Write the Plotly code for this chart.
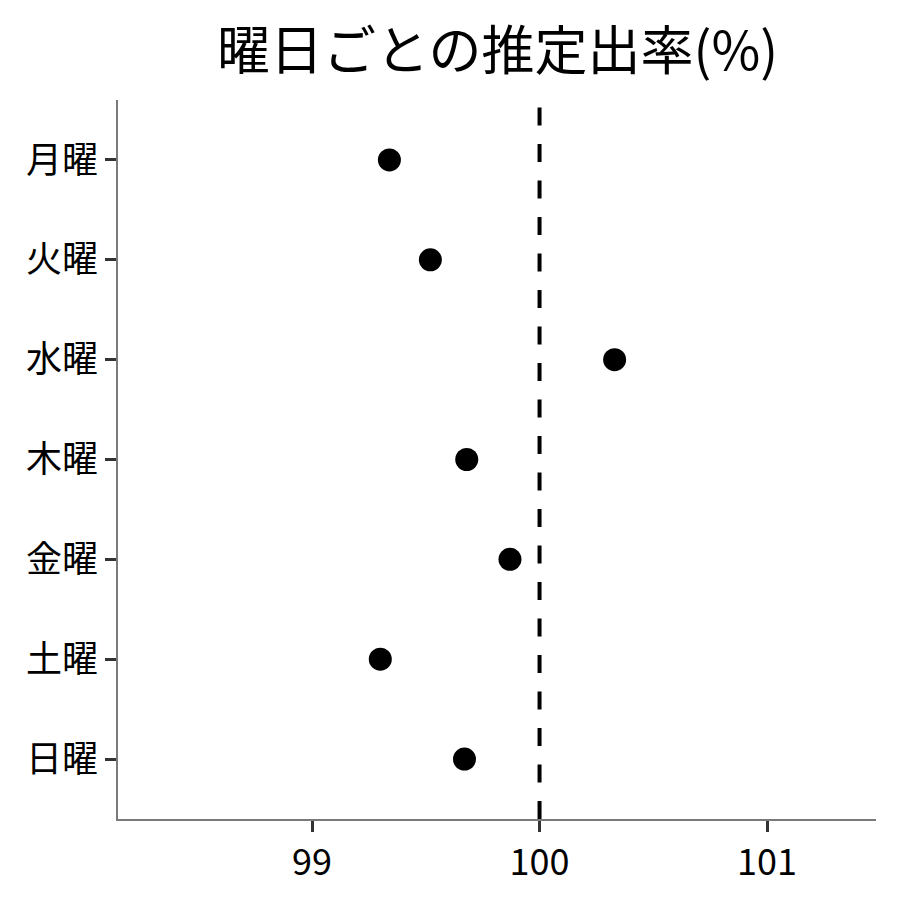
import plotly.graph_objects as go

days = ["月曜", "火曜", "水曜", "木曜", "金曜", "土曜", "日曜"]
values = [99.34, 99.52, 100.33, 99.68, 99.87, 99.30, 99.67]
ref_value = 100
x_ticks = [99, 100, 101]
title_text = "曜日ごとの推定出率(%)"

FONT = "Noto Sans CJK JP"

fig = go.Figure()
fig.add_trace(go.Scatter(
    x=values, y=days, mode="markers",
    marker=dict(color="black", size=23),
    showlegend=False,
))
fig.add_shape(type="line", xref="x", yref="paper", x0=ref_value, x1=ref_value, y0=0, y1=1,
              line=dict(color="black", width=4, dash="18px,18.5px"))

fig.add_annotation(text=title_text, xref="paper", yref="paper", x=0.5, y=1.0737,
                   xanchor="center", yanchor="middle", showarrow=False,
                   font=dict(size=53, family=FONT, color="black"))

fig.update_layout(
    width=900, height=900,
    margin=dict(l=110, r=32, t=92, b=89),
    plot_bgcolor="white", paper_bgcolor="white",
    font=dict(family=FONT, color="black"),
)
fig.update_xaxes(
    range=[98.147, 101.479], tickvals=x_ticks, ticktext=[str(v) for v in x_ticks],
    showgrid=False, zeroline=False, showline=True, linecolor="#7a7a7a", linewidth=1.5,
    ticks="outside", ticklen=11, tickwidth=3, tickcolor="#333333",
    tickfont=dict(size=36, family=FONT, color="black"),
)
fig.update_yaxes(
    categoryorder="array", categoryarray=days, range=[6.6, -0.6],
    showgrid=False, zeroline=False, showline=True, linecolor="#7a7a7a", linewidth=1.5,
    ticks="outside", ticklen=11, tickwidth=3, tickcolor="#333333",
    tickfont=dict(size=36, family=FONT, color="black"),
)

fig.write_html("out.html")
